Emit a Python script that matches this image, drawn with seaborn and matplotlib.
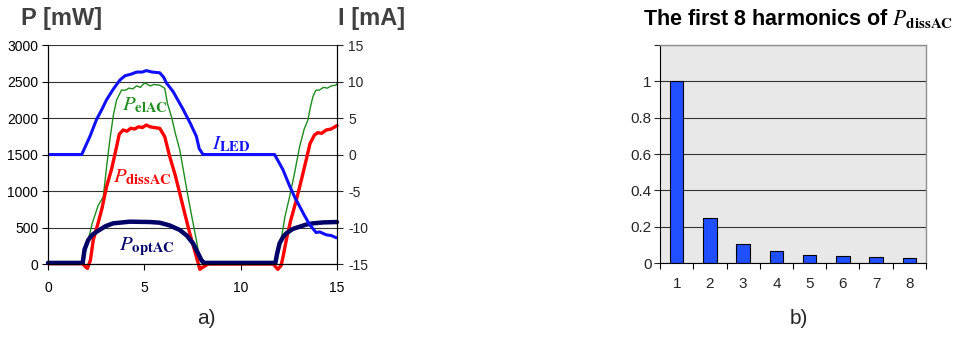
"""LED power and current waveforms (a) and harmonics of P_dissAC (b)."""

import matplotlib

matplotlib.use("Agg")
import matplotlib.pyplot as plt
import pandas as pd
import seaborn as sns

# --- a) waveforms ---------------------------------------------------------
ILED_T = [0, 1.75, 2.18, 2.52, 2.8, 3.04, 3.4, 3.73, 4.0, 4.3, 4.6, 4.9,
          5.1, 5.4, 5.8, 6.0, 6.15, 6.5, 7.01, 7.4, 7.7, 7.85, 8.05, 11.76,
          12.19, 12.54, 12.8, 13.06, 13.3, 13.58, 13.92, 14.1, 14.44, 14.7,
          14.96, 15.0]
ILED_MA = [0, 0, 2.5, 4.8, 6.2, 7.5, 9.0, 10.2, 10.8, 11.0, 11.3, 11.3,
           11.5, 11.3, 11.2, 10.6, 9.8, 8.6, 6.2, 4.2, 2.5, 0.8, 0, 0,
           -2.05, -4.3, -5.8, -7.1, -8.3, -9.6, -10.7, -10.6, -11.0, -11.1,
           -11.4, -11.4]

PEL_T = [0, 1.8, 2.0, 2.3, 2.6, 2.87, 3.05, 3.21, 3.4, 3.56, 3.82, 4.0,
         4.2, 4.4, 4.6, 4.8, 5.0, 5.11, 5.3, 5.5, 5.8, 6.06, 6.2, 6.41, 6.6,
         6.84, 7.05, 7.27, 7.5, 7.7, 7.88, 8.0, 11.85, 12.1, 12.3, 12.54,
         12.8, 13.06, 13.3, 13.49, 13.62, 13.75, 13.9, 14.09, 14.3, 14.5,
         14.7, 14.96, 15.0]
PEL_MW = [10, 10, 237, 560, 800, 922, 1350, 1699, 2050, 2247, 2384, 2380,
          2410, 2400, 2440, 2420, 2480, 2470, 2440, 2460, 2450, 2407, 2200,
          2018, 1800, 1562, 1250, 922, 600, 329, 55, 5, 5, 329, 650, 922,
          1250, 1607, 1850, 1973, 2150, 2292, 2380, 2384, 2420, 2410, 2440,
          2452, 2470]

PDISS_T = [0, 1.8, 1.95, 2.05, 2.2, 2.35, 2.6, 2.8, 3.04, 3.3, 3.56, 3.7,
           3.9, 4.1, 4.3, 4.5, 4.7, 4.9, 5.1, 5.3, 5.5, 5.8, 6.06, 6.32, 6.6,
           6.84, 7.1, 7.36, 7.7, 7.88, 8.0, 8.13, 8.3, 11.7, 11.85, 11.93,
           12.1, 12.2, 12.37, 12.6, 12.89, 13.15, 13.4, 13.6, 13.83, 14.0,
           14.2, 14.44, 14.7, 14.96, 15.0]
PDISS_MW = [5, 5, -40, -60, 50, 329, 560, 760, 1059, 1300, 1607, 1780,
            1836, 1820, 1860, 1850, 1880, 1870, 1904, 1880, 1870, 1859, 1744,
            1470, 1220, 968, 690, 420, 100, -73, -50, -30, 0, 0, -50, -73,
            -20, 100, 329, 600, 877, 1150, 1425, 1650, 1767, 1800, 1790,
            1836, 1850, 1890, 1895]

POPT_T = [0, 1.8, 1.9, 2.09, 2.3, 2.52, 3.0, 3.38, 4.25, 5.3, 5.8, 6.3,
          6.84, 7.2, 7.53, 7.8, 7.96, 8.1, 11.8, 11.9, 12.02, 12.2, 12.37,
          12.7, 13.06, 13.4, 13.75, 14.3, 14.96, 15.0]
POPT_MW = [15, 15, 200, 329, 400, 442, 520, 557, 580, 575, 566, 530, 466,
           390, 283, 140, 55, 15, 15, 150, 283, 370, 420, 480, 511, 540, 557,
           570, 575, 575]

# --- b) harmonics ---------------------------------------------------------
HARMONIC_N = ["1", "2", "3", "4", "5", "6", "7", "8"]
HARMONIC_AMP = [1.0, 0.25, 0.107, 0.064, 0.046, 0.039, 0.035, 0.028]

BLUE = "#1010ff"
RED = "#ff0000"
GREEN = "#1e8c1e"
NAVY = "#000066"
BAR_BLUE = "#1f4fff"


def plot_waveforms(fig: plt.Figure) -> None:
    ax = fig.add_axes([0.0502, 0.25, 0.3023, 0.622])
    ax2 = ax.twinx()

    sns.lineplot(x=PEL_T, y=PEL_MW, color=GREEN, lw=1.0, sort=False, ax=ax)
    sns.lineplot(x=PDISS_T, y=PDISS_MW, color=RED, lw=2.4, sort=False, ax=ax)
    sns.lineplot(x=POPT_T, y=POPT_MW, color=NAVY, lw=3.2, sort=False, ax=ax)
    sns.lineplot(x=ILED_T, y=ILED_MA, color=BLUE, lw=2.2, sort=False, ax=ax2)
    # the dissipated power dips a little below the frame in the original
    for line in ax.get_lines():
        line.set_clip_on(False)

    ax.set_xlim(0, 15)
    ax.set_ylim(0, 3000)
    ax2.set_ylim(-15, 15)
    ax.set_xticks([0, 5, 10, 15])
    ax.set_yticks(range(0, 3001, 500))
    ax2.set_yticks(range(-15, 16, 5))
    ax.grid(axis="y", color="#333333", lw=0.8)
    ax.grid(axis="x", visible=False)
    ax2.grid(False)
    ax.set_xlabel("")
    ax.set_ylabel("")
    ax2.set_ylabel("")

    for a in (ax, ax2):
        a.spines["top"].set_visible(False)
        for s in ("left", "right", "bottom"):
            a.spines[s].set_color("black")
            a.spines[s].set_linewidth(0.8)
    ax.tick_params(axis="both", length=4, width=0.8, labelsize=10,
                   colors="black", direction="out")
    ax.tick_params(axis="x", pad=8, bottom=True)
    ax.tick_params(axis="y", left=True, pad=3)
    ax2.tick_params(axis="y", length=4, width=0.8, labelsize=10,
                    right=True, direction="out", pad=4)

    ax.text(3.83, 2110, r"$P_{\mathbf{elAC}}$", color=GREEN, fontsize=15)
    ax.text(3.37, 1123, r"$P_{\mathbf{dissAC}}$", color=RED, fontsize=15)
    ax.text(3.7, 192, r"$P_{\mathbf{optAC}}$", color=NAVY, fontsize=15)
    ax2.text(8.5, 0.7, r"$I_{\mathbf{LED}}$", color=BLUE, fontsize=15)


def plot_harmonics(fig: plt.Figure) -> None:
    ax = fig.add_axes([0.6904, 0.2528, 0.2782, 0.619])
    df = pd.DataFrame({"n": HARMONIC_N, "amp": HARMONIC_AMP})
    sns.barplot(data=df, x="n", y="amp", color=BAR_BLUE, saturation=1,
                width=0.4, edgecolor="black", linewidth=0.8, ax=ax)
    ax.set_facecolor("#e8e8e8")
    ax.set_xlim(-0.5, 7.5)
    ax.set_ylim(0, 1.2)
    ax.set_yticks([0, 0.2, 0.4, 0.6, 0.8, 1.0, 1.2])
    ax.set_yticklabels(["0", "0.2", "0.4", "0.6", "0.8", "1", ""])
    ax.grid(axis="y", color="#333333", lw=0.8)
    ax.grid(axis="x", visible=False)
    ax.set_axisbelow(True)
    ax.set_xlabel("")
    ax.set_ylabel("")
    ax.set_xticks([i + 0.5 for i in range(-1, 8)], minor=True)
    ax.tick_params(axis="x", which="major", length=0, pad=10, labelsize=11)
    ax.tick_params(axis="x", which="minor", length=4, width=0.8,
                   bottom=True, direction="out", color="black")
    ax.tick_params(axis="y", length=4, width=0.8, left=True, labelsize=11,
                   direction="out", pad=2)
    for s in ("top", "right"):
        ax.spines[s].set_color("#909090")
        ax.spines[s].set_linewidth(1.0)
    for s in ("left", "bottom"):
        ax.spines[s].set_color("black")
        ax.spines[s].set_linewidth(0.8)


def main() -> None:
    sns.set_theme(style="white")
    plt.rcParams["font.family"] = ["Liberation Sans", "DejaVu Sans"]
    plt.rcParams["mathtext.fontset"] = "stix"
    plt.rcParams["axes.unicode_minus"] = False

    fig = plt.figure(figsize=(9.56, 3.52), dpi=100)
    plot_waveforms(fig)
    plot_harmonics(fig)

    fig.text(21 / 956, 1 - 25 / 352, "P [mW]", fontsize=17,
             fontweight="bold", color="#404040", va="baseline")
    fig.text(338 / 956, 1 - 25 / 352, "I [mA]", fontsize=17,
             fontweight="bold", color="#404040", va="baseline")
    fig.text(643 / 956, 1 - 25 / 352,
             r"The first 8 harmonics of $P_{\mathbf{dissAC}}$",
             fontsize=15.5, fontweight="bold", color="black", va="baseline")
    fig.text(197 / 956, 1 - 324 / 352, "a)", fontsize=15, va="baseline")
    fig.text(790 / 956, 1 - 324 / 352, "b)", fontsize=15, va="baseline")

    fig.savefig("out.png", dpi=100)
    plt.close(fig)


if __name__ == "__main__":
    main()
